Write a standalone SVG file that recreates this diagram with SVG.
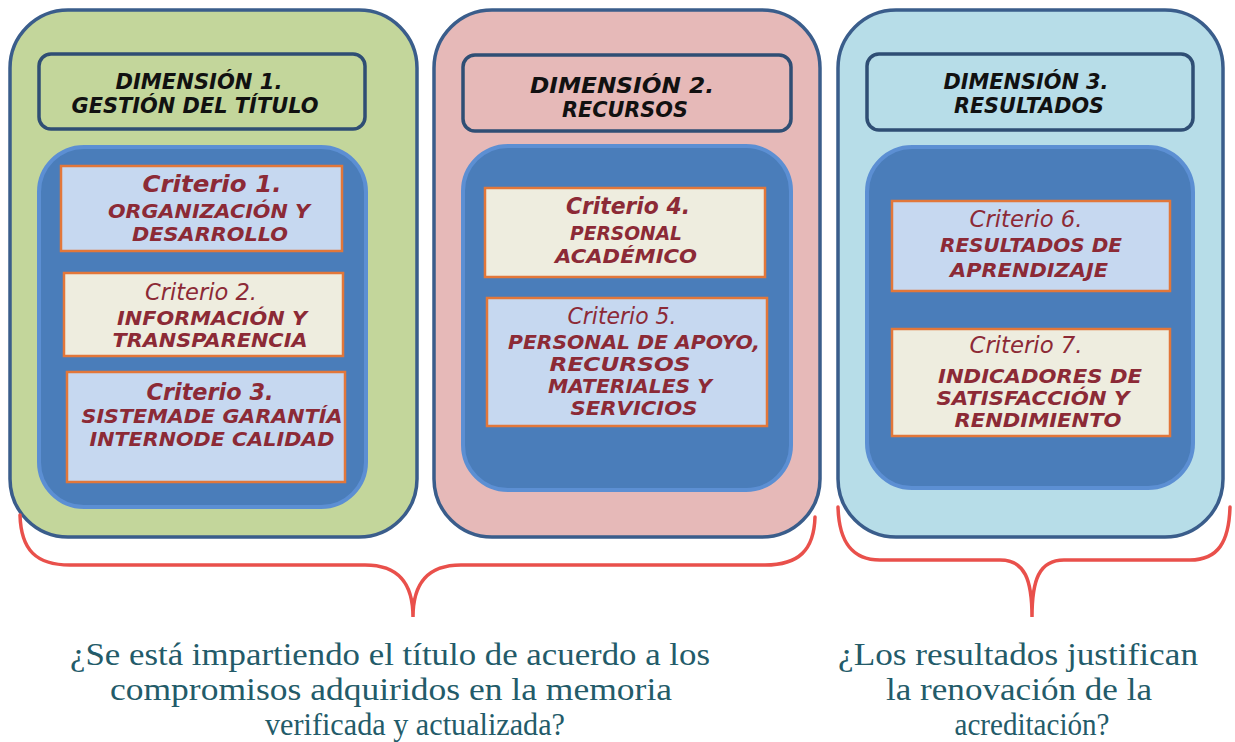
<svg xmlns="http://www.w3.org/2000/svg" width="1235" height="742" viewBox="0 0 1235 742">
<style>
.panel{stroke:#3a5d8b;stroke-width:3.5}
.title{stroke:#2f4e74;stroke-width:3.5}
.inner{fill:#4a7dba;stroke:#5c8fd3;stroke-width:4}
.crit{stroke:#e2773a;stroke-width:2.5}
.lb{fill:#c6d8f0}
.cr{fill:#eeeddf}
.dt{font-family:"DejaVu Sans",Verdana,sans-serif;font-weight:bold;font-style:italic;font-size:22px;fill:#111;text-anchor:middle}
.ct{font-family:"DejaVu Sans",Verdana,sans-serif;font-style:italic;font-size:23px;fill:#8c2a36;text-anchor:middle}
.b{font-weight:bold}
.cap{font-weight:bold;font-size:19.5px}
.q{font-family:"Liberation Serif","Times New Roman",serif;font-size:32px;fill:#235b69;text-anchor:middle}
.br{fill:none;stroke:#e9504b;stroke-width:3.5;stroke-linecap:round}
</style>
<rect width="1235" height="742" fill="#ffffff"/>

<g id="dim1">
<rect class="panel" x="10" y="10" width="407" height="527" rx="58" fill="#c3d69b"/>
<rect class="title" x="39" y="54" width="326" height="75" rx="12" fill="#c3d69b"/>
<text class="dt" x="199" y="89" textLength="167" lengthAdjust="spacingAndGlyphs">DIMENSIÓN 1.</text>
<text class="dt" x="195" y="113" textLength="247" lengthAdjust="spacingAndGlyphs">GESTIÓN DEL TÍTULO</text>
<rect class="inner" x="39" y="147" width="327" height="360" rx="45"/>
</g>
<g id="crit1">
<rect class="crit lb" x="61" y="166" width="281" height="85"/>
<text class="ct b" x="212" y="192" textLength="139" lengthAdjust="spacingAndGlyphs">Criterio 1.</text>
<text class="ct cap" x="209" y="218" textLength="202" lengthAdjust="spacingAndGlyphs">ORGANIZACIÓN Y</text>
<text class="ct cap" x="210" y="241" textLength="156" lengthAdjust="spacingAndGlyphs">DESARROLLO</text>
</g>
<g id="crit2">
<rect class="crit cr" x="64" y="273" width="279" height="83"/>
<text class="ct" x="201" y="300" textLength="112" lengthAdjust="spacingAndGlyphs">Criterio 2.</text>
<text class="ct cap" x="212" y="325" textLength="190" lengthAdjust="spacingAndGlyphs">INFORMACIÓN Y</text>
<text class="ct cap" x="210" y="347" textLength="195" lengthAdjust="spacingAndGlyphs">TRANSPARENCIA</text>
</g>
<g id="crit3">
<rect class="crit lb" x="67" y="372" width="278" height="110"/>
<text class="ct b" x="210" y="400" textLength="127" lengthAdjust="spacingAndGlyphs">Criterio 3.</text>
<text class="ct cap" x="212" y="423" textLength="261" lengthAdjust="spacingAndGlyphs">SISTEMADE GARANTÍA</text>
<text class="ct cap" x="212" y="446" textLength="245" lengthAdjust="spacingAndGlyphs">INTERNODE CALIDAD</text>
</g>

<g id="dim2">
<rect class="panel" x="434" y="10" width="386" height="527" rx="58" fill="#e6b9b8"/>
<rect class="title" x="463" y="55" width="328" height="76" rx="12" fill="#e6b9b8"/>
<text class="dt" x="622" y="93" textLength="184" lengthAdjust="spacingAndGlyphs">DIMENSIÓN 2.</text>
<text class="dt" x="625" y="117" textLength="126" lengthAdjust="spacingAndGlyphs">RECURSOS</text>
<rect class="inner" x="463" y="146" width="328" height="344" rx="45"/>
</g>
<g id="crit4">
<rect class="crit cr" x="485" y="188" width="280" height="89"/>
<text class="ct b" x="628" y="214" textLength="124" lengthAdjust="spacingAndGlyphs">Criterio 4.</text>
<text class="ct cap" x="626" y="240" textLength="112" lengthAdjust="spacingAndGlyphs">PERSONAL</text>
<text class="ct cap" x="626" y="263" textLength="142" lengthAdjust="spacingAndGlyphs">ACADÉMICO</text>
</g>
<g id="crit5">
<rect class="crit lb" x="487" y="298" width="280" height="128"/>
<text class="ct" x="622" y="324" textLength="109" lengthAdjust="spacingAndGlyphs">Criterio 5.</text>
<text class="ct cap" x="634" y="349" textLength="252" lengthAdjust="spacingAndGlyphs">PERSONAL DE APOYO,</text>
<text class="ct cap" x="620" y="371" textLength="141" lengthAdjust="spacingAndGlyphs">RECURSOS</text>
<text class="ct cap" x="630" y="393" textLength="164" lengthAdjust="spacingAndGlyphs">MATERIALES Y</text>
<text class="ct cap" x="634" y="415" textLength="127" lengthAdjust="spacingAndGlyphs">SERVICIOS</text>
</g>

<g id="dim3">
<rect class="panel" x="838" y="10" width="385" height="527" rx="58" fill="#b7dde8"/>
<rect class="title" x="867" y="54" width="326" height="76" rx="12" fill="#b7dde8"/>
<text class="dt" x="1026" y="89" textLength="165" lengthAdjust="spacingAndGlyphs">DIMENSIÓN 3.</text>
<text class="dt" x="1029" y="113" textLength="150" lengthAdjust="spacingAndGlyphs">RESULTADOS</text>
<rect class="inner" x="867" y="147" width="326" height="341" rx="45"/>
</g>
<g id="crit6">
<rect class="crit lb" x="892" y="201" width="278" height="90"/>
<text class="ct" x="1026" y="227" textLength="113" lengthAdjust="spacingAndGlyphs">Criterio 6.</text>
<text class="ct cap" x="1031" y="252" textLength="182" lengthAdjust="spacingAndGlyphs">RESULTADOS DE</text>
<text class="ct cap" x="1029" y="277" textLength="158" lengthAdjust="spacingAndGlyphs">APRENDIZAJE</text>
</g>
<g id="crit7">
<rect class="crit cr" x="892" y="329" width="278" height="107"/>
<text class="ct" x="1026" y="353" textLength="113" lengthAdjust="spacingAndGlyphs">Criterio 7.</text>
<text class="ct cap" x="1040" y="383" textLength="204" lengthAdjust="spacingAndGlyphs">INDICADORES DE</text>
<text class="ct cap" x="1033" y="405" textLength="193" lengthAdjust="spacingAndGlyphs">SATISFACCIÓN Y</text>
<text class="ct cap" x="1038" y="427" textLength="167" lengthAdjust="spacingAndGlyphs">RENDIMIENTO</text>
</g>

<g id="connectors">
<path class="br" d="M 20 515 C 21 550 36 565 70 565 L 365 565 C 400 565 413 585 413 617 C 413 585 426 565 461 565 L 765 565 C 799 565 814 550 815 517"/>
<path class="br" d="M 838 507 C 839 542 852 560 880 560 L 1000 560 C 1025 560 1032 580 1032 617 C 1032 580 1039 560 1064 560 L 1190 560 C 1218 560 1229 542 1230 507"/>
</g>

<g id="questions">
<text class="q" x="390" y="665" textLength="640" lengthAdjust="spacingAndGlyphs">¿Se está impartiendo el título de acuerdo a los</text>
<text class="q" x="391" y="700" textLength="562" lengthAdjust="spacingAndGlyphs">compromisos adquiridos en la memoria</text>
<text class="q" x="415" y="735" textLength="300" lengthAdjust="spacingAndGlyphs">verificada y actualizada?</text>
<text class="q" x="1018" y="665" textLength="360" lengthAdjust="spacingAndGlyphs">¿Los resultados justifican</text>
<text class="q" x="1019" y="700" textLength="266" lengthAdjust="spacingAndGlyphs">la renovación de la</text>
<text class="q" x="1032" y="735" textLength="155" lengthAdjust="spacingAndGlyphs">acreditación?</text>
</g>
</svg>
